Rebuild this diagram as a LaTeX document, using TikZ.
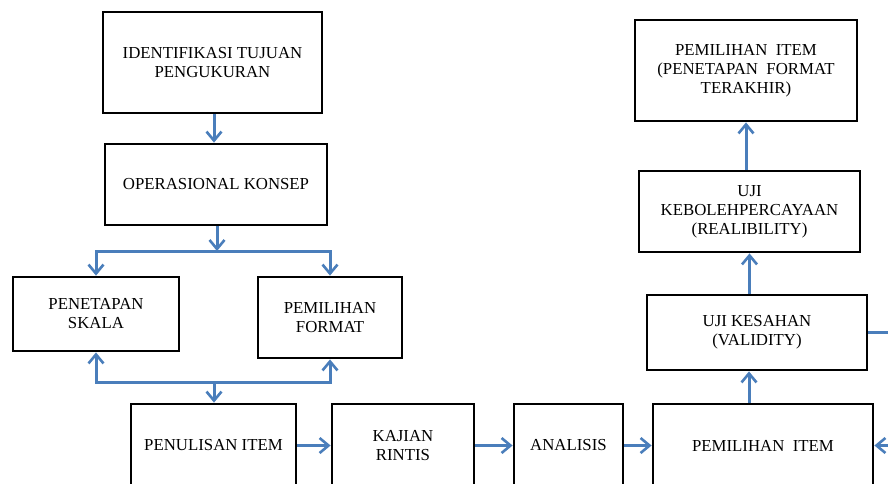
\documentclass[tikz,border=0pt]{standalone}
\usepackage{fontspec}
\setmainfont{Liberation Serif}
\usetikzlibrary{arrows.meta}
\definecolor{flowblue}{HTML}{4A7EBB}
\begin{document}
\begin{tikzpicture}[x=1pt,y=-1pt,
  stagebox/.style={draw=black, line width=2.8pt, fill=white, align=center,
    inner sep=0pt, font=\fontsize{16.8}{19}\selectfont},
  link/.style={draw=flowblue, line width=3pt},
  arr/.style={link, -{Straight Barb[length=9pt,width=15pt,line width=2.6pt]}}]
\useasboundingbox (0,0) rectangle (888,483);
\clip (0,0) rectangle (888,483);

% left column
\node[stagebox, minimum width=219pt, minimum height=101pt] (id) at (212.5,62.5)
  {IDENTIFIKASI TUJUAN\\PENGUKURAN};
\node[stagebox, minimum width=222pt, minimum height=81pt] (op) at (216,184.5)
  {OPERASIONAL KONSEP};
\node[stagebox, minimum width=166pt, minimum height=74pt] (skala) at (96,314)
  {PENETAPAN\\SKALA};
\node[stagebox, minimum width=144pt, minimum height=81pt] (format) at (330,317.5)
  {PEMILIHAN\\FORMAT};

% bottom row
\node[stagebox, minimum width=165pt, minimum height=83pt] (tulis) at (213.5,445.5)
  {PENULISAN ITEM};
\node[stagebox, minimum width=142pt, minimum height=83pt] (kajian) at (403,445.5)
  {KAJIAN\\RINTIS};
\node[stagebox, minimum width=109pt, minimum height=83pt] (analisis) at (568.5,445.5)
  {ANALISIS};
\node[stagebox, minimum width=220pt, minimum height=83pt] (pilih) at (763,445.5)
  {PEMILIHAN\ \ ITEM};

% right column
\node[stagebox, minimum width=220pt, minimum height=75pt] (sah) at (757,332.5)
  {UJI KESAHAN\\(VALIDITY)};
\node[stagebox, minimum width=221pt, minimum height=81pt] (boleh) at (749.5,211.5)
  {UJI\\KEBOLEHPERCAYAAN\\(REALIBILITY)};
\node[stagebox, minimum width=222pt, minimum height=101pt] (akhir) at (746,70.5)
  {PEMILIHAN\ \ ITEM\\(PENETAPAN\ \ FORMAT\\TERAKHIR)};

% junction points and off-page return loop
\coordinate (j1) at (217,251);
\coordinate (j2) at (214,382);
\coordinate (vx) at (749,0);
\coordinate (out1) at (905,332.5);

% connectors
\draw[arr] (id.south -| j2) -- (j2 |- op.north);
\draw[arr] (op.south -| j1) -- (j1);
\draw[arr] (j1) -| (skala.north);
\draw[arr] (j1) -| (format.north);
\draw[arr] (j2) -| (skala.south);
\draw[arr] (j2) -| (format.south);
\draw[arr] (j2) -- (j2 |- tulis.north);
\draw[arr] (tulis.east) -- (kajian.west);
\draw[arr] (kajian.east) -- (analisis.west);
\draw[arr] (analisis.east) -- (pilih.west);
\draw[arr] (vx |- pilih.north) -- (vx |- sah.south);
\draw[arr] (sah.north -| boleh.south) -- (boleh.south);
\draw[arr] (boleh.north -| akhir.south) -- (akhir.south);
\draw[arr] (sah.east) -- (out1) |- (pilih.east);
\end{tikzpicture}
\end{document}
